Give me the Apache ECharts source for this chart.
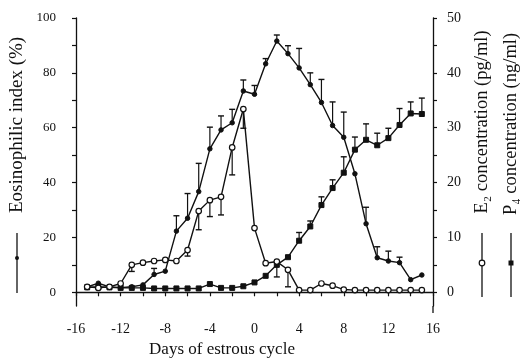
<!DOCTYPE html>
<html>
<head>
<meta charset="utf-8">
<script src="https://cdn.jsdelivr.net/npm/echarts@6/dist/echarts.min.js"></script>
<style>html,body{margin:0;padding:0;background:#fff}#c{width:526px;height:358px}</style>
</head>
<body>
<div id="c"></div>
<script>
// Days of estrous cycle
const days = [-15,-14,-13,-12,-11,-10,-9,-8,-7,-6,-5,-4,-3,-2,-1,0,1,2,3,4,5,6,7,8,9,10,11,12,13,14,15];
// Eosinophilic index (%) - left axis
const eosinophil = [2.0,3.3,2.0,1.7,2.0,2.7,6.5,7.7,22.3,27.0,36.7,52.3,59.2,61.8,73.4,72.2,83.3,91.6,87.0,81.8,75.7,69.2,60.8,56.5,43.2,25.0,12.6,11.4,10.8,4.6,6.3];
const eosinophilErrTop = [null,null,null,null,null,null,8.7,null,27.9,36.0,47.0,60.2,64.3,66.7,77.4,75.4,85.2,93.8,89.9,88.9,80.0,77.6,69.4,65.7,null,31.0,16.6,15.0,12.8,null,null];
// E2 concentration (pg/ml) - right axis
const e2 = [1.0,0.8,1.0,1.6,5.0,5.4,5.7,5.9,5.7,7.7,14.8,16.8,17.4,26.4,33.4,11.7,5.3,5.6,4.1,0.4,0.4,1.6,1.2,0.5,0.4,0.4,0.4,0.4,0.4,0.4,0.4];
const e2ErrBottom = [null,null,null,null,3.8,null,null,null,null,6.6,11.4,13.8,14.1,21.4,29.9,null,null,2.8,1.0,null,null,null,null,null,null,null,null,null,null,null,null];
// P4 concentration (ng/ml) - right axis
const p4 = [0.9,1.0,0.9,0.8,0.8,0.8,0.7,0.7,0.7,0.7,0.7,1.5,0.8,0.8,1.1,1.8,3.0,5.0,6.4,9.4,12.0,15.9,19.0,21.8,26.0,27.8,26.8,28.1,30.5,32.6,32.5];
const p4ErrTop = [null,null,null,null,null,null,null,null,null,null,null,null,null,null,null,null,null,null,null,10.9,13.0,17.4,20.5,24.7,28.3,30.7,29.0,29.9,33.5,34.7,35.4];
// Tick labels
const xTickLabels = [-16,-12,-8,-4,0,4,8,12,16];
const xTickMarks = [-16,-14,-12,-10,-8,-6,-4,-2,0,2,4,6,8,10,12,14,16];
const leftTickLabels = [0,20,40,60,80,100];
const leftTickMarks = [0,10,20,30,40,50,60,70,80,90,100];
const rightTickLabels = [0,10,20,30,40,50];
const rightTickMarks = [0,5,10,15,20,25,30,35,40,45,50];

const FONT = '"Liberation Serif","Times New Roman",serif';
const INK = '#111';

function pairs(vals){ return days.map((d,i)=>[d, vals[i]]); }
function errPairs(vals, errs){
  const out = [];
  days.forEach((d,i)=>{ if(errs[i]!==null) out.push([d, vals[i], errs[i]]); });
  return out;
}
function errRender(params, api){
  const x = api.value(0), v = api.value(1), e = api.value(2);
  const p1 = api.coord([x, v]);
  const p2 = api.coord([x, e]);
  return {type:'group', children:[
    {type:'line', shape:{x1:p1[0], y1:p1[1], x2:p2[0], y2:p2[1]}, style:{stroke:INK, lineWidth:1.2}},
    {type:'line', shape:{x1:p2[0]-3, y1:p2[1], x2:p2[0]+3, y2:p2[1]}, style:{stroke:INK, lineWidth:1.4}}
  ]};
}

const chart = echarts.init(document.getElementById('c'), null, {renderer:'canvas'});
chart.setOption({
  backgroundColor:'#fff',
  animation:false,
  grid:{left:76, right:93, top:18, bottom:52},
  xAxis:{
    type:'value', min:-16, max:16, interval:4,
    axisLine:{show:true, lineStyle:{color:INK, width:1.3}},
    axisTick:{show:true, inside:false, length:4, customValues:xTickMarks, lineStyle:{color:INK, width:1.2}},
    axisLabel:{fontFamily:FONT, fontSize:14, color:INK, margin:16, customValues:xTickLabels},
    splitLine:{show:false}
  },
  yAxis:[
    {
      type:'value', min:-5, max:100, position:'left',
      axisLine:{show:true, onZero:false, lineStyle:{color:INK, width:1.3}},
      axisTick:{show:true, length:4, customValues:leftTickMarks, lineStyle:{color:INK, width:1.2}},
      axisLabel:{fontFamily:FONT, fontSize:13, color:INK, margin:20, customValues:leftTickLabels},
      splitLine:{show:false}
    },
    {
      type:'value', min:-2.5, max:50, position:'right',
      axisLine:{show:true, onZero:false, lineStyle:{color:INK, width:1.3}},
      axisTick:{show:true, length:4, customValues:rightTickMarks, lineStyle:{color:INK, width:1.2}},
      axisLabel:{fontFamily:FONT, fontSize:14, color:INK, margin:14, customValues:rightTickLabels},
      splitLine:{show:false}
    }
  ],
  series:[
    {type:'custom', name:'eosErr', xAxisIndex:0, yAxisIndex:0, renderItem:errRender,
     encode:{x:0, y:[1,2]}, data:errPairs(eosinophil, eosinophilErrTop), z:2},
    {type:'custom', name:'e2Err', xAxisIndex:0, yAxisIndex:1, renderItem:errRender,
     encode:{x:0, y:[1,2]}, data:errPairs(e2, e2ErrBottom), z:2},
    {type:'custom', name:'p4Err', xAxisIndex:0, yAxisIndex:1, renderItem:errRender,
     encode:{x:0, y:[1,2]}, data:errPairs(p4, p4ErrTop), z:2},
    {type:'line', name:'Eosinophilic index', yAxisIndex:0, data:pairs(eosinophil),
     symbol:'circle', symbolSize:4.5, showAllSymbol:true,
     lineStyle:{color:INK, width:1.4}, itemStyle:{color:INK, borderColor:INK}, z:3},
    {type:'line', name:'P4', yAxisIndex:1, data:pairs(p4),
     symbol:'rect', symbolSize:5, showAllSymbol:true,
     lineStyle:{color:INK, width:1.4}, itemStyle:{color:INK, borderColor:INK}, z:4},
    {type:'line', name:'E2', yAxisIndex:1, data:pairs(e2),
     symbol:'circle', symbolSize:5.5, showAllSymbol:true,
     lineStyle:{color:INK, width:1.4}, itemStyle:{color:'#fff', borderColor:INK, borderWidth:1.2}, z:5}
  ],
  graphic:[
    {type:'text', x:222, y:350,
     style:{text:'Days of estrous cycle', fontFamily:FONT, fontSize:17, fill:INK, align:'center', verticalAlign:'middle'}},
    {type:'line', shape:{x1:433, y1:306, x2:433, y2:313}, style:{stroke:INK, lineWidth:1.3}},

    {type:'text', x:17, y:125, rotation:Math.PI/2,
     style:{text:'Eosinophilic index (%)', fontFamily:FONT, fontSize:19, fill:INK, align:'center', verticalAlign:'middle'}},
    {type:'line', shape:{x1:17, y1:233, x2:17, y2:293}, style:{stroke:INK, lineWidth:1.3}},
    {type:'circle', shape:{cx:17, cy:258, r:2}, style:{fill:INK}},

    {type:'text', x:482, y:122, rotation:Math.PI/2,
     style:{text:'E\u2082 concentration (pg/ml)', fontFamily:FONT, fontSize:18.5, fill:INK, align:'center', verticalAlign:'middle'}},
    {type:'line', shape:{x1:482, y1:233, x2:482, y2:297}, style:{stroke:INK, lineWidth:1.3}},
    {type:'circle', shape:{cx:482, cy:263, r:2.8}, style:{fill:'#fff', stroke:INK, lineWidth:1.2}},

    {type:'text', x:511, y:124, rotation:Math.PI/2,
     style:{text:'P\u2084 concentration (ng/ml)', fontFamily:FONT, fontSize:18.5, fill:INK, align:'center', verticalAlign:'middle'}},
    {type:'line', shape:{x1:511, y1:233, x2:511, y2:297}, style:{stroke:INK, lineWidth:1.3}},
    {type:'rect', shape:{x:508.5, y:260.5, width:5, height:5}, style:{fill:INK}}
  ]
});
</script>
</body>
</html>
